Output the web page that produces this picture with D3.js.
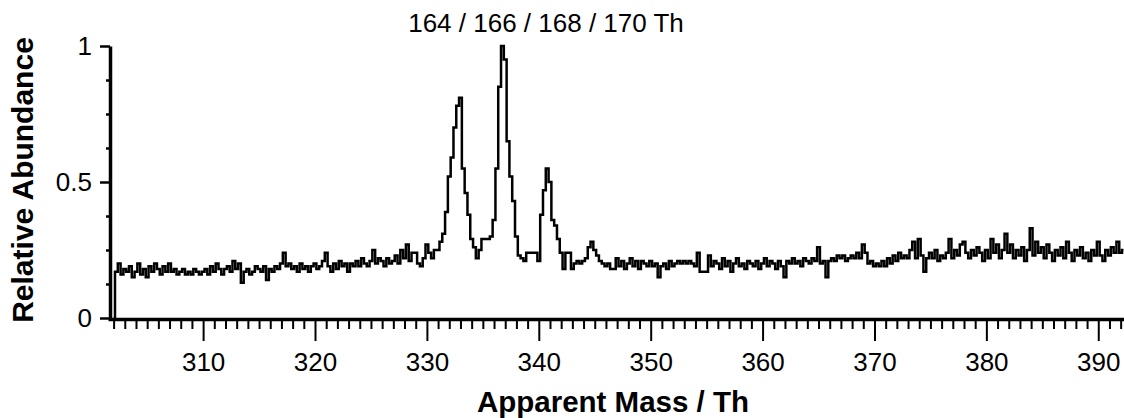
<!DOCTYPE html>
<html>
<head>
<meta charset="utf-8">
<script src="https://cdn.jsdelivr.net/npm/d3@7"></script>
<style>
    body { margin: 0; background: #fff; }
    svg text { font-family: 'Liberation Sans', Arial, sans-serif; fill: #000; }
</style>
</head>
<body>
<svg id="chart"></svg>
<script>
    // spectrum sampled every 0.25 Th, starting at 302.0 Th
    const massStart = 302.0
    const massStep = 0.25
    const abundance = [
        0, 0.17, 0.2, 0.16,        // 302
        0.18, 0.17, 0.19, 0.15,    // 303
        0.17, 0.2, 0.16, 0.18,     // 304
        0.15, 0.19, 0.17, 0.2,     // 305
        0.18, 0.16, 0.19, 0.17,    // 306
        0.2, 0.17, 0.18, 0.16,     // 307
        0.17, 0.18, 0.16, 0.17,    // 308
        0.16, 0.18, 0.17, 0.16,    // 309
        0.17, 0.18, 0.16, 0.19,    // 310
        0.17, 0.2, 0.18, 0.16,     // 311
        0.18, 0.19, 0.17, 0.21,    // 312
        0.18, 0.2, 0.13, 0.17,     // 313
        0.18, 0.16, 0.17, 0.19,    // 314
        0.18, 0.17, 0.19, 0.14,    // 315
        0.18, 0.17, 0.19, 0.18,    // 316
        0.2, 0.24, 0.19, 0.2,      // 317
        0.18, 0.19, 0.17, 0.2,     // 318
        0.18, 0.19, 0.17, 0.19,    // 319
        0.2, 0.18, 0.19, 0.21,     // 320
        0.24, 0.19, 0.17, 0.2,     // 321
        0.18, 0.21, 0.19, 0.2,     // 322
        0.17, 0.2, 0.19, 0.21,     // 323
        0.19, 0.22, 0.2, 0.19,     // 324
        0.21, 0.25, 0.2, 0.22,     // 325
        0.21, 0.19, 0.22, 0.2,     // 326
        0.21, 0.23, 0.2, 0.25,     // 327
        0.22, 0.27, 0.21, 0.24,    // 328
        0.24, 0.2, 0.19, 0.22,     // 329
        0.27, 0.24, 0.22, 0.25,    // 330
        0.25, 0.28, 0.31, 0.39,    // 331
        0.52, 0.59, 0.7, 0.78,     // 332
        0.81, 0.55, 0.46, 0.38,    // 333
        0.29, 0.26, 0.22, 0.25,    // 334
        0.29, 0.29, 0.29, 0.3,     // 335
        0.36, 0.55, 0.85, 1.0,     // 336
        0.95, 0.65, 0.52, 0.43,    // 337
        0.3, 0.23, 0.22, 0.21,     // 338
        0.24, 0.24, 0.24, 0.24,    // 339
        0.21, 0.38, 0.47, 0.55,    // 340
        0.5, 0.36, 0.34, 0.29,     // 341
        0.24, 0.18, 0.24, 0.24,    // 342
        0.18, 0.2, 0.21, 0.2,      // 343
        0.21, 0.22, 0.26, 0.28,    // 344
        0.25, 0.23, 0.21, 0.2,     // 345
        0.19, 0.2, 0.18, 0.18,     // 346
        0.22, 0.19, 0.21, 0.18,    // 347
        0.2, 0.22, 0.19, 0.21,     // 348
        0.18, 0.21, 0.2, 0.19,     // 349
        0.21, 0.19, 0.2, 0.15,     // 350
        0.19, 0.2, 0.18, 0.21,     // 351
        0.19, 0.2, 0.21, 0.2,      // 352
        0.21, 0.2, 0.21, 0.2,      // 353
        0.19, 0.24, 0.17, 0.17,    // 354
        0.17, 0.23, 0.19, 0.21,    // 355
        0.2, 0.18, 0.22, 0.19,     // 356
        0.21, 0.17, 0.2, 0.22,     // 357
        0.19, 0.2, 0.18, 0.21,     // 358
        0.2, 0.19, 0.21, 0.18,     // 359
        0.2, 0.22, 0.19, 0.21,     // 360
        0.2, 0.18, 0.21, 0.19,     // 361
        0.15, 0.21, 0.2, 0.22,     // 362
        0.2, 0.21, 0.19, 0.22,     // 363
        0.21, 0.2, 0.22, 0.21,     // 364
        0.26, 0.2, 0.21, 0.15,     // 365
        0.21, 0.22, 0.21, 0.23,    // 366
        0.22, 0.23, 0.21, 0.22,    // 367
        0.23, 0.22, 0.24, 0.22,    // 368
        0.27, 0.24, 0.2, 0.21,     // 369
        0.19, 0.2, 0.19, 0.21,     // 370
        0.19, 0.22, 0.2, 0.23,     // 371
        0.21, 0.24, 0.22, 0.23,    // 372
        0.22, 0.25, 0.28, 0.22,    // 373
        0.29, 0.23, 0.17, 0.22,    // 374
        0.24, 0.22, 0.25, 0.21,    // 375
        0.23, 0.22, 0.24, 0.29,    // 376
        0.22, 0.25, 0.23, 0.27,    // 377
        0.28, 0.24, 0.22, 0.25,    // 378
        0.23, 0.26, 0.24, 0.21,    // 379
        0.25, 0.22, 0.29, 0.24,    // 380
        0.27, 0.22, 0.25, 0.31,    // 381
        0.24, 0.27, 0.22, 0.25,    // 382
        0.23, 0.26, 0.21, 0.25,    // 383
        0.33, 0.23, 0.28, 0.24,    // 384
        0.26, 0.22, 0.27, 0.24,    // 385
        0.21, 0.25, 0.23, 0.26,    // 386
        0.22, 0.28, 0.24, 0.21,    // 387
        0.25, 0.23, 0.26, 0.22,    // 388
        0.24, 0.21, 0.25, 0.23,    // 389
        0.28, 0.23, 0.21, 0.25,    // 390
        0.23, 0.26, 0.24, 0.28,    // 391
        0.24, 0.25                 // 392
    ]

    const xMajorTicks = [310, 320, 330, 340, 350, 360, 370, 380, 390]
    const yMajorTicks = [0, 0.5, 1]
    const yTickLabels = ['0', '0.5', '1']

    const width = 1124
    const height = 418

    const svg = d3
        .select('#chart')
        .attr('width', width)
        .attr('height', height)

    const xScale = d3.scaleLinear().domain([301.5, 392.3]).range([108, 1124])
    const yScale = d3.scaleLinear().domain([0, 1]).range([318, 46])

    const points = abundance.map((v, i) => [massStart + i * massStep, v])

    // x axis: minor every 1 Th, major every 10 Th
    const xMinor = d3.range(302, 393).filter((m) => m % 10 !== 0)

    svg.append('g')
        .attr('transform', 'translate(0,319)')
        .call(d3.axisBottom(xScale).tickValues(xMinor).tickSize(10).tickSizeOuter(0).tickFormat(''))
        .call((g) => g.select('.domain').attr('stroke-width', 3.5))
        .call((g) => g.selectAll('.tick line').attr('stroke-width', 2))

    svg.append('g')
        .attr('transform', 'translate(0,319)')
        .call(d3.axisBottom(xScale).tickValues(xMajorTicks).tickSize(22).tickSizeOuter(0).tickPadding(12))
        .call((g) => g.select('.domain').remove())
        .call((g) => g.selectAll('.tick line').attr('stroke-width', 2))
        .call((g) => g.selectAll('text').attr('font-size', 26).attr('fill', '#000'))

    // y axis
    const yMinor = d3.range(0, 8).map((k) => k * 0.125).filter((v) => v % 0.5 !== 0)

    svg.append('g')
        .attr('transform', 'translate(110,0)')
        .call(d3.axisLeft(yScale).tickValues(yMinor).tickSize(4).tickSizeOuter(0).tickFormat(''))
        .call((g) => g.select('.domain').attr('stroke-width', 3.5))
        .call((g) => g.selectAll('.tick line').attr('stroke-width', 2.5))

    svg.append('g')
        .attr('transform', 'translate(110,0)')
        .call(
            d3.axisLeft(yScale)
                .tickValues(yMajorTicks)
                .tickSize(10)
                .tickPadding(8)
                .tickFormat((d, i) => yTickLabels[i])
        )
        .call((g) => g.select('.domain').remove())
        .call((g) => g.selectAll('.tick line').attr('stroke-width', 2.5))
        .call((g) => g.selectAll('text').attr('font-size', 26).attr('fill', '#000'))

    // spectrum trace
    const line = d3
        .line()
        .x((d) => xScale(d[0]))
        .y((d) => yScale(d[1]))
        .curve(d3.curveStep)

    svg.append('path')
        .datum(points)
        .attr('fill', 'none')
        .attr('stroke', '#000')
        .attr('stroke-width', 2.5)
        .attr('stroke-linejoin', 'miter')
        .attr('d', line)

    // titles
    svg.append('text')
        .attr('x', 546)
        .attr('y', 32)
        .attr('text-anchor', 'middle')
        .attr('font-size', 26)
        .text('164 / 166 / 168 / 170 Th')

    svg.append('text')
        .attr('x', 613)
        .attr('y', 412)
        .attr('text-anchor', 'middle')
        .attr('font-size', 29.5)
        .attr('font-weight', 'bold')
        .text('Apparent Mass / Th')

    svg.append('text')
        .attr('transform', 'translate(33,180) rotate(-90)')
        .attr('text-anchor', 'middle')
        .attr('font-size', 30)
        .attr('font-weight', 'bold')
        .text('Relative Abundance')
</script>
</body>
</html>
